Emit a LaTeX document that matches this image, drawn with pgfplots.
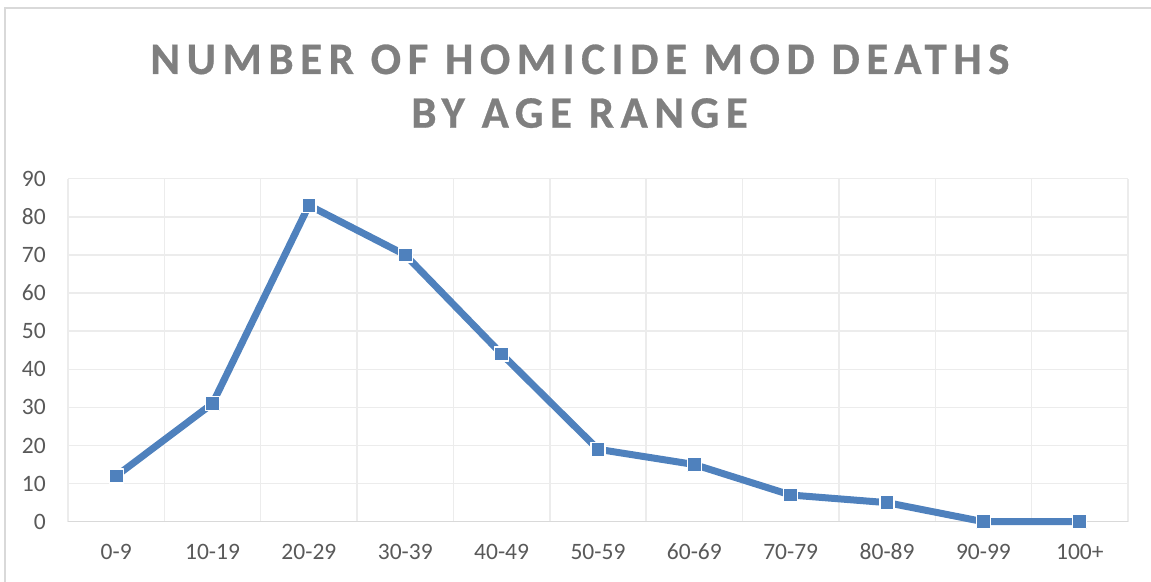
\documentclass[border=0pt]{standalone}
\usepackage{pgfplots}
\pgfplotsset{compat=1.18}
\usepackage{fontspec}
\setmainfont{Carlito}
\definecolor{lineblue}{HTML}{4F81BD}
\definecolor{ticktext}{HTML}{595959}
\definecolor{titlegray}{HTML}{7F7F7F}
\definecolor{gridgray}{HTML}{ECECEC}
\definecolor{bordergray}{HTML}{D9D9D9}
\begin{document}
\begin{tikzpicture}
\path[use as bounding box] (0,0) rectangle (1151bp,582bp);
\draw[bordergray, line width=2bp] (5bp,-2bp) -- (5bp,574bp) -- (1153bp,574bp);
\node[anchor=base, inner sep=0pt, text=titlegray, font={\fontsize{45bp}{50bp}\selectfont\bfseries\addfontfeatures{LetterSpace=14.5,FakeBold=0.6}}] at (580bp,508bp) {NUMBER OF HOMICIDE MOD DEATHS};
\node[anchor=base, inner sep=0pt, text=titlegray, font={\fontsize{45bp}{50bp}\selectfont\bfseries\addfontfeatures{LetterSpace=14.5,FakeBold=0.6}}] at (579.5bp,454.3bp) {BY AGE RANGE};
\begin{axis}[
  at={(68bp,60.3bp)}, anchor=south west,
  scale only axis, width=1060bp, height=343bp,
  xmin=-0.5, xmax=10.5, ymin=0, ymax=90,
  ytick={0,10,...,90},
  xtick={0,...,10},
  xticklabels={0-9,10-19,20-29,30-39,40-49,50-59,60-69,70-79,80-89,90-99,100+},
  minor xtick={-0.5,0.5,...,10.5},
  ymajorgrids, xminorgrids,
  major grid style={gridgray, line width=1.5bp},
  minor grid style={gridgray, line width=1.5bp},
  axis lines*=left,
  x axis line style={bordergray, line width=1.5bp},
  y axis line style={draw=none},
  tick style={draw=none},
  major tick length=0pt, minor tick length=0pt,
  /pgf/number format/assume math mode=true,
  tick label style={font={\fontsize{23.5bp}{27bp}\selectfont}, text=ticktext},
  yticklabel style={inner sep=0pt, xshift=-22bp},
  xticklabel style={inner sep=0pt, yshift=-22bp},
  clip=false,
]
\addplot[lineblue, line width=7bp, line join=round, mark=square*, mark size=7bp,
  mark options={fill=lineblue, draw=white, line width=1.2bp}]
  coordinates {(0,12) (1,31) (2,83) (3,70) (4,44) (5,19) (6,15) (7,7) (8,5) (9,0) (10,0)};
\end{axis}
\end{tikzpicture}
\end{document}
